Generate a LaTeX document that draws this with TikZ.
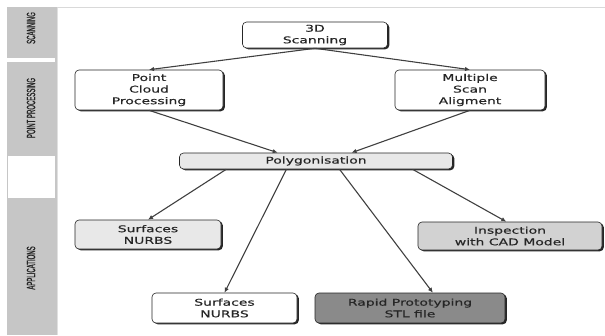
\documentclass[tikz,border=0pt]{standalone}
\usepackage{fontspec}
\usetikzlibrary{arrows.meta,shadows,calc}
\newfontfamily\boxfont[FakeStretch=1.5,FakeBold=0.4]{DejaVu Sans}
\newfontfamily\sidefont[FakeStretch=0.5,FakeBold=0.8]{Liberation Sans}
\definecolor{colgray}{HTML}{C6C6C6}
\definecolor{lightfill}{HTML}{E8E8E8}
\definecolor{midfill}{HTML}{D2D2D2}
\definecolor{darkfill}{HTML}{8A8A8A}
\tikzset{
  stagebox/.style={draw=black!85, line width=0.6pt, rounded corners=4pt, align=center,
    inner sep=0pt, font=\boxfont\fontsize{9.3}{11.6}\selectfont, text=black!85,
    drop shadow={shadow xshift=1.8pt, shadow yshift=-1.3pt, fill=black!85, opacity=1}},
  flow/.style={draw=black!75, line width=1.1pt, -{Latex[length=5pt,width=4.5pt]}},
  sidelabel/.style={rotate=90, font=\sidefont\fontsize{12}{14}\selectfont, text=black!85, inner sep=0pt}
}
\begin{document}
\begin{tikzpicture}[x=1pt,y=-1pt]
\useasboundingbox (0,0) rectangle (605,335);
% left column
\fill[colgray] (7,7) rectangle (57,335);
\fill[white] (7,58) rectangle (55,62);
\fill[white] (8,156) rectangle (55,198);
\draw[black!12, line width=1pt] (57.5,7) -- (57.5,335);
\draw[black!15, line width=1pt] (57,7.5) -- (605,7.5);
\node[sidelabel] (lscan) at (31,28) {SCANNING};
\node[sidelabel] (lpoint) at (31,108) {POINT PROCESSING};
\node[sidelabel] (lapp) at (31,268) {APPLICATIONS};
% boxes
\node[stagebox, fill=white, minimum width=145pt, minimum height=26pt] (scan) at (315,35) {3D\\Scanning};
\node[stagebox, fill=white, minimum width=148pt, minimum height=40pt] (pcp) at (149,90) {Point\\Cloud\\Processing};
\node[stagebox, fill=white, minimum width=150pt, minimum height=40pt] (msa) at (470,90) {Multiple\\Scan\\Aligment};
\node[stagebox, fill=lightfill, minimum width=273pt, minimum height=16pt] (poly) at (316,161) {Polygonisation};
\node[stagebox, fill=lightfill, minimum width=146pt, minimum height=29pt] (surf1) at (148,234.5) {Surfaces\\NURBS};
\node[stagebox, fill=midfill, minimum width=184pt, minimum height=28pt] (insp) at (510,236) {Inspection\\with CAD Model};
\node[stagebox, fill=white, minimum width=145pt, minimum height=30pt] (surf2) at (224.5,308) {Surfaces\\NURBS};
\node[stagebox, fill=darkfill, minimum width=190pt, minimum height=30pt] (rapid) at (410,308) {Rapid Prototyping\\STL file};
% connectors
\draw[flow] (scan.south) -- (pcp.north);
\draw[flow] (scan.south) -- (msa.north);
\draw[flow] (pcp.south) -- ($(poly.north west)!0.36!(poly.north east)$);
\draw[flow] (msa.south) -- ($(poly.north west)!0.63!(poly.north east)$);
\draw[flow] ($(poly.south west)!0.172!(poly.south east)$) -- (surf1.north);
\draw[flow] ($(poly.south west)!0.392!(poly.south east)$) -- (surf2.north);
\draw[flow] ($(poly.south west)!0.586!(poly.south east)$) -- ($(rapid.north west)!0.62!(rapid.north east)$);
\draw[flow] ($(poly.south west)!0.853!(poly.south east)$) -- ($(insp.north west)!0.48!(insp.north east)$);
\end{tikzpicture}
\end{document}
